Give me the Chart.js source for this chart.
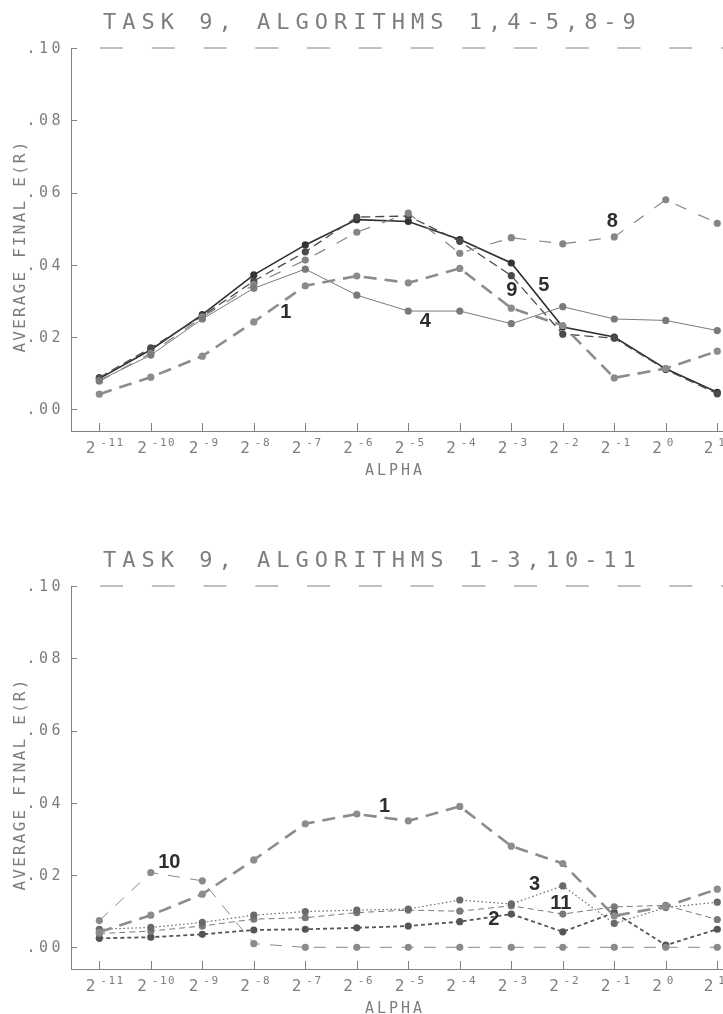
<!DOCTYPE html>
<html>
<head>
<meta charset="utf-8">
<title>Task 9 - average final E(R) against alpha</title>
<script src="https://cdn.jsdelivr.net/npm/chart.js@4"></script>
<style>
  html, body { margin: 0; padding: 0; background: #fff; overflow: hidden; }
  .page { width: 723px; height: 1014px; overflow: hidden; }
  .panel canvas { display: block; }
</style>
</head>
<body>
<div class="page">
  <div class="panel"><canvas id="topChart" width="760" height="538"></canvas></div>
  <div class="panel"><canvas id="bottomChart" width="760" height="476"></canvas></div>
</div>
<script>
// Step size alpha = 2^e
const alphaExponents = [-11, -10, -9, -8, -7, -6, -5, -4, -3, -2, -1, 0, 1];
const yTickValues = [0, 0.02, 0.04, 0.06, 0.08, 0.10];

// Average final E(R) per algorithm
const alg1  = [0.0042, 0.0089, 0.0147, 0.0242, 0.0342, 0.0369, 0.0350, 0.0390, 0.0280, 0.0232, 0.0087, 0.0113, 0.0161];
const alg2  = [0.0025, 0.0028, 0.0036, 0.0048, 0.0050, 0.0054, 0.0059, 0.0071, 0.0092, 0.0043, 0.0096, 0.0006, 0.0050];
const alg3  = [0.0050, 0.0055, 0.0069, 0.0089, 0.0099, 0.0103, 0.0106, 0.0131, 0.0120, 0.0170, 0.0066, 0.0110, 0.0125];
const alg4  = [0.0080, 0.0150, 0.0250, 0.0335, 0.0388, 0.0316, 0.0272, 0.0272, 0.0237, 0.0284, 0.0250, 0.0246, 0.0218];
const alg5  = [0.0085, 0.0165, 0.0262, 0.0372, 0.0455, 0.0525, 0.0520, 0.0470, 0.0405, 0.0228, 0.0200, 0.0112, 0.0047];
const alg8  = [0.0078, 0.0155, 0.0255, 0.0345, 0.0413, 0.0490, 0.0543, 0.0432, 0.0475, 0.0458, 0.0477, 0.0580, 0.0515];
const alg9  = [0.0088, 0.0170, 0.0258, 0.0355, 0.0436, 0.0532, 0.0535, 0.0465, 0.0370, 0.0208, 0.0197, 0.0110, 0.0043];
const alg10 = [0.0074, 0.0207, 0.0184, 0.0010, 0, 0, 0, 0, 0, 0, 0, 0, 0];
const alg11 = [0.0038, 0.0045, 0.0059, 0.0078, 0.0082, 0.0096, 0.0103, 0.0100, 0.0115, 0.0092, 0.0112, 0.0116, 0.0077];

// Look of the plotter output
const plotterFont = '"DejaVu Sans Mono", monospace';
const tagFont = 'bold 20px "Liberation Sans", Arial, sans-serif';
const ink = '#7e7e7e';
const axisGray = '#808080';

// Curve numbers, placed in data units
const topTags = [
    { text: '1', x: -7.38, y: 0.0269 },
    { text: '4', x: -4.67, y: 0.0242 },
    { text: '9', x: -2.99, y: 0.0330 },
    { text: '5', x: -2.37, y: 0.0344 },
    { text: '8', x: -1.04, y: 0.0521 }
];
const bottomTags = [
    { text: '10', x: -9.64, y: 0.0236 },
    { text: '1', x: -5.46, y: 0.0391 },
    { text: '3', x: -2.55, y: 0.0173 },
    { text: '11', x: -2.04, y: 0.0120 },
    { text: '2', x: -3.34, y: 0.0076 }
];

function spacedText(ctx, text, x, y, size, spacing, align, baseline) {
    ctx.save();
    ctx.font = `${size}px ${plotterFont}`;
    ctx.fillStyle = ink;
    ctx.letterSpacing = spacing + 'px';
    ctx.textAlign = align || 'left';
    ctx.textBaseline = baseline || 'alphabetic';
    ctx.fillText(text, x, y);
    ctx.restore();
}

// Frame decorations and all plotter lettering
const plotterText = {
    id: 'plotterText',
    beforeDatasetsDraw(chart) {
        const { ctx, chartArea, scales: { y } } = chart;
        const yTop = y.getPixelForValue(0.10);
        ctx.save();
        ctx.strokeStyle = axisGray;
        ctx.lineWidth = 1;
        ctx.setLineDash([23, 28.75]);
        ctx.lineDashOffset = 22.7;
        ctx.beginPath();
        ctx.moveTo(chartArea.left, yTop);
        ctx.lineTo(chartArea.right, yTop);
        ctx.stroke();
        ctx.restore();
    },
    afterDraw(chart, args, opts) {
        const { ctx, chartArea, scales: { x, y } } = chart;
        const { left, bottom } = chartArea;

        // inward tick marks
        ctx.save();
        ctx.strokeStyle = axisGray;
        ctx.lineWidth = 1;
        ctx.beginPath();
        yTickValues.forEach(v => {
            const py = Math.round(y.getPixelForValue(v)) + 0.5;
            ctx.moveTo(left, py);
            ctx.lineTo(left + 6, py);
        });
        alphaExponents.forEach(e => {
            const px = Math.round(x.getPixelForValue(e)) + 0.5;
            ctx.moveTo(px, bottom);
            ctx.lineTo(px, bottom - 8);
        });
        ctx.stroke();
        ctx.restore();

        // y tick labels
        yTickValues.forEach(v => {
            const label = '.' + String(Math.round(v * 100)).padStart(2, '0');
            spacedText(ctx, label, 64, y.getPixelForValue(v) + 1, 15, 3.5, 'right', 'middle');
        });

        // x tick labels: 2 with a raised exponent
        alphaExponents.forEach(e => {
            const px = x.getPixelForValue(e);
            spacedText(ctx, '2', px - 4, bottom + 22, 16, 0, 'right');
            spacedText(ctx, String(e), px + 1, bottom + 15, 11, 1.5, 'left');
        });

        spacedText(ctx, 'ALPHA', 395, bottom + 44, 15, 3, 'center');
        spacedText(ctx, opts.title, 103, 29, 22, 6, 'left');

        ctx.save();
        ctx.translate(25, 246);
        ctx.rotate(-Math.PI / 2);
        spacedText(ctx, 'AVERAGE FINAL E(R)', 0, 0, 16, 2.2, 'center');
        ctx.restore();

        // curve numbers
        ctx.save();
        ctx.font = tagFont;
        ctx.fillStyle = '#2e2e2e';
        ctx.textAlign = 'center';
        ctx.textBaseline = 'middle';
        opts.tags.forEach(t => {
            ctx.fillText(t.text, x.getPixelForValue(t.x), y.getPixelForValue(t.y));
        });
        ctx.restore();
    }
};

function series(values, style) {
    return {
        data: values.map((v, i) => ({ x: alphaExponents[i], y: v })),
        borderColor: style.color,
        borderWidth: style.width,
        borderDash: style.dash || [],
        pointBackgroundColor: style.dot || style.color,
        pointBorderWidth: 0,
        pointRadius: 3.6,
        pointHoverRadius: 3.6,
        tension: 0,
        fill: false
    };
}

function panelConfig(title, datasets, tags, xAxisHeight) {
    return {
        type: 'line',
        data: { datasets },
        options: {
            responsive: false,
            animation: false,
            events: [],
            layout: { padding: { top: 48, left: 0, right: 0, bottom: 0 } },
            plugins: {
                legend: { display: false },
                tooltip: { enabled: false },
                plotterText: { title, tags }
            },
            scales: {
                x: {
                    type: 'linear',
                    min: -11.55,
                    max: 1.76,
                    ticks: { display: false },
                    grid: { display: false, drawTicks: false },
                    border: { color: axisGray, width: 1 },
                    afterFit: scale => { scale.height = xAxisHeight; }
                },
                y: {
                    min: -0.006,
                    max: 0.10,
                    ticks: { display: false, stepSize: 0.02 },
                    grid: { display: false, drawTicks: false },
                    border: { color: axisGray, width: 1 },
                    afterFit: scale => { scale.width = 71; }
                }
            }
        },
        plugins: [plotterText]
    };
}

const dashedThick = { color: '#8c8c8c', width: 2.6, dash: [13, 8] };

new Chart(document.getElementById('topChart'), panelConfig(
    'TASK 9, ALGORITHMS 1,4-5,8-9',
    [
        series(alg1, dashedThick),
        series(alg4, { color: '#7a7a7a', width: 1 }),
        series(alg8, { color: '#858585', width: 1.2, dash: [12, 13] }),
        series(alg9, { color: '#4a4a4a', width: 1.3, dash: [9, 5] }),
        series(alg5, { color: '#2f2f2f', width: 1.6, dot: '#333' })
    ],
    topTags,
    107
));

new Chart(document.getElementById('bottomChart'), panelConfig(
    'TASK 9, ALGORITHMS 1-3,10-11',
    [
        series(alg10, { color: '#8a8a8a', width: 1, dash: [12, 10] }),
        series(alg1, dashedThick),
        series(alg3, { color: '#6a6a6a', width: 1.2, dash: [1.5, 2.5] }),
        series(alg11, { color: '#7a7a7a', width: 1, dash: [6, 4] }),
        series(alg2, { color: '#555', width: 1.8, dash: [4, 3] })
    ],
    bottomTags,
    45
));
</script>
</body>
</html>
